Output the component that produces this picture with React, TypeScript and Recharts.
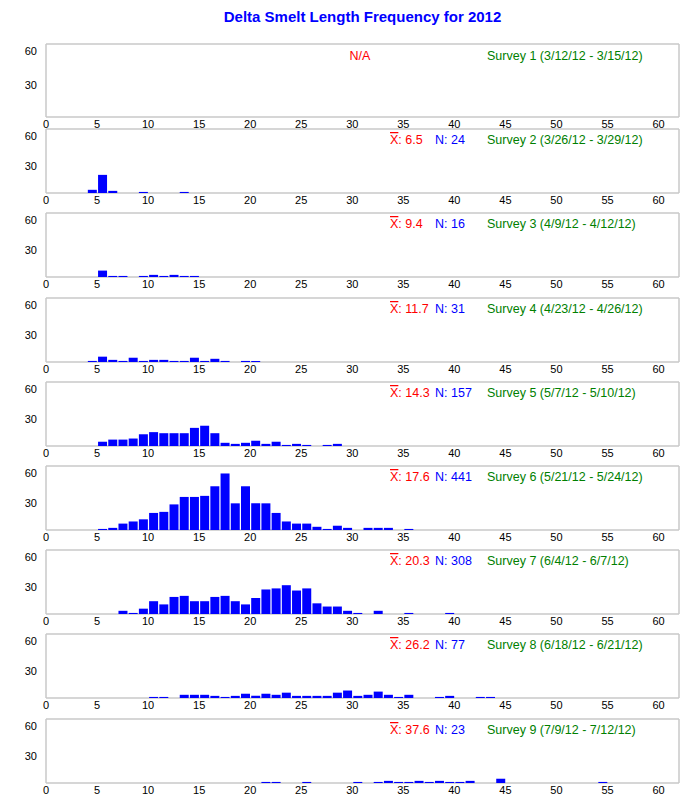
import React from 'react';
import { BarChart, Bar, XAxis, YAxis, CartesianGrid } from 'recharts';

// x axis (fork length, mm) and y axis (count) tick labels
const lengthTicks = [0, 5, 10, 15, 20, 25, 30, 35, 40, 45, 50, 55, 60];
const countTicks = [30, 60];
const maxLength = 62;

// per survey: fork lengths present and their counts
const s1Len: number[] = [];
const s1Cnt: number[] = [];
const s2Len = [5, 6, 7, 10, 14];
const s2Cnt = [3, 17, 2, 1, 1];
const s3Len = [6, 7, 8, 10, 11, 12, 13, 14, 15];
const s3Cnt = [6, 1, 1, 1, 2, 1, 2, 1, 1];
const s4Len = [5, 6, 7, 8, 9, 10, 11, 12, 13, 14, 15, 16, 17, 18, 20, 21];
const s4Cnt = [1, 5, 2, 1, 4, 1, 2, 2, 1, 1, 4, 1, 3, 1, 1, 1];
const s5Len = [6, 7, 8, 9, 10, 11, 12, 13, 14, 15, 16, 17, 18, 19, 20, 21, 22, 23, 24, 25, 26, 28, 29];
const s5Cnt = [4, 6, 6, 7, 11, 13, 12, 12, 12, 17, 19, 12, 3, 2, 3, 5, 2, 4, 1, 2, 1, 1, 2];
const s6Len = [6, 7, 8, 9, 10, 11, 12, 13, 14, 15, 16, 17, 18, 19, 20, 21, 22, 23, 24, 25, 26, 27, 28, 29, 30, 32, 33, 34, 36];
const s6Cnt = [1, 2, 6, 8, 10, 16, 17, 24, 31, 31, 32, 41, 53, 25, 41, 25, 25, 16, 8, 6, 6, 3, 1, 4, 2, 2, 2, 2, 1];
const s7Len = [8, 9, 10, 11, 12, 13, 14, 15, 16, 17, 18, 19, 20, 21, 22, 23, 24, 25, 26, 27, 28, 29, 30, 31, 33, 36, 40];
const s7Cnt = [3, 1, 5, 12, 9, 16, 17, 12, 12, 16, 17, 12, 9, 15, 23, 24, 27, 22, 24, 10, 7, 7, 3, 1, 3, 1, 1];
const s8Len = [11, 12, 14, 15, 16, 17, 18, 19, 20, 21, 22, 23, 24, 25, 26, 27, 28, 29, 30, 31, 32, 33, 34, 35, 36, 39, 40, 43, 44];
const s8Cnt = [1, 1, 3, 3, 3, 2, 1, 2, 4, 2, 4, 3, 5, 2, 2, 2, 2, 5, 7, 2, 3, 6, 3, 1, 3, 1, 2, 1, 1];
const s9Len = [22, 23, 26, 31, 33, 34, 35, 36, 37, 38, 39, 40, 41, 42, 45, 55];
const s9Cnt = [1, 1, 1, 1, 1, 2, 1, 1, 2, 1, 2, 1, 1, 2, 4, 1];

const surveyNames = [
  'Survey 1 (3/12/12 - 3/15/12)',
  'Survey 2 (3/26/12 - 3/29/12)',
  'Survey 3 (4/9/12 - 4/12/12)',
  'Survey 4 (4/23/12 - 4/26/12)',
  'Survey 5 (5/7/12 - 5/10/12)',
  'Survey 6 (5/21/12 - 5/24/12)',
  'Survey 7 (6/4/12 - 6/7/12)',
  'Survey 8 (6/18/12 - 6/21/12)',
  'Survey 9 (7/9/12 - 7/12/12)',
];
const surveyMeans = [null, '6.5', '9.4', '11.7', '14.3', '17.6', '20.3', '26.2', '37.6'];
const surveyN = [null, 24, 16, 31, 157, 441, 308, 77, 23];

const surveys = [
  [s1Len, s1Cnt], [s2Len, s2Cnt], [s3Len, s3Cnt], [s4Len, s4Cnt], [s5Len, s5Cnt],
  [s6Len, s6Cnt], [s7Len, s7Cnt], [s8Len, s8Cnt], [s9Len, s9Cnt],
];

const FONT = '"Liberation Sans", Arial, sans-serif';
const FRAME = '#c8c8c8';
const panelTops = [44, 129, 213, 298, 382, 466, 550, 634, 719];
// the first (empty) survey box is drawn a little taller
const plotHeights = [73, 64, 64, 64, 64, 64, 64, 64, 64];

function YTick(props: any) {
  const { x, y, payload } = props;
  // top label sits just inside the frame
  const shift = payload.value === 60 ? -1 : 5;
  return (
    <text x={x} y={y + shift} dy="0.355em" textAnchor="end" fontSize={11} fill="#000" fontFamily={FONT}>
      {payload.value}
    </text>
  );
}

// one bin per mm, bin k drawn over [k-1, k]
function binTable(lens: number[], cnts: number[]) {
  const rows = [];
  for (let len = 1; len <= maxLength; len++) {
    const i = lens.indexOf(len);
    rows.push({ mid: len - 0.5, count: i >= 0 ? cnts[i] : 0 });
  }
  return rows;
}

// frame = the plot area's four edges
const frameRows = ({ offset }: any) => [offset.top, offset.top + offset.height];
const frameCols = ({ offset }: any) => [offset.left, offset.left + offset.width];

function Panel({ idx }: { idx: number }) {
  const [lens, cnts] = surveys[idx];
  const data = binTable(lens, cnts);
  const top = panelTops[idx];
  const h = plotHeights[idx] + 22;
  const mean = surveyMeans[idx];
  return (
    <div style={{ position: 'absolute', left: 0, top: top - 1, width: 683, height: h }}>
      <BarChart width={683} height={h} data={data} margin={{ top: 1, right: 4, left: 6, bottom: 0 }}>
        <CartesianGrid
          stroke={FRAME}
          strokeWidth={1.5}
          horizontalCoordinatesGenerator={frameRows}
          verticalCoordinatesGenerator={frameCols}
        />
        <XAxis
          type="number"
          dataKey="mid"
          domain={[0, maxLength]}
          ticks={lengthTicks}
          interval={0}
          height={21}
          axisLine={false}
          tickLine={false}
          tickSize={0}
          tickMargin={3}
          tick={{ fontSize: 11, fill: '#000', fontFamily: FONT }}
        />
        <YAxis
          type="number"
          domain={[0, 60]}
          ticks={countTicks}
          width={40}
          axisLine={false}
          tickLine={false}
          tickSize={0}
          tickMargin={9}
          tick={<YTick />}
        />
        <Bar dataKey="count" fill="#0000ff" barSize={9} isAnimationActive={false} />
      </BarChart>
      <svg width={683} height={h} style={{ position: 'absolute', left: 0, top: 0, pointerEvents: 'none' }}>
        <g fontFamily={FONT} fontSize={12.5}>
          {mean === null ? (
            <text x={360} y={17} textAnchor="middle" fill="#ff0000">N/A</text>
          ) : (
            <>
              <text x={390} y={16} fill="#ff0000">
                <tspan style={{ textDecoration: 'overline' }}>X</tspan>: {mean}
              </text>
              <text x={435} y={16} fill="#0000ff">N: {surveyN[idx]}</text>
            </>
          )}
          <text x={487} y={mean === null ? 17 : 16} fill="#008000">{surveyNames[idx]}</text>
        </g>
      </svg>
    </div>
  );
}

export default function App() {
  return (
    <div style={{ position: 'absolute', left: 0, top: 0, width: 683, height: 796, background: '#fff', fontFamily: FONT }}>
      <div
        style={{
          position: 'absolute', left: 46, top: 8, width: 633, textAlign: 'center',
          fontWeight: 'bold', fontSize: 15, color: '#0000ff',
        }}
      >
        Delta Smelt Length Frequency for 2012
      </div>
      {panelTops.map((_, i) => (
        <Panel key={i} idx={i} />
      ))}
    </div>
  );
}
